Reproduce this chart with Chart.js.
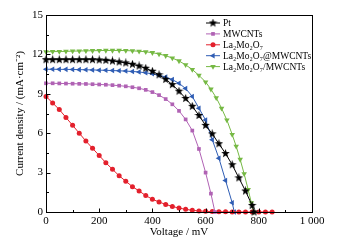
<!DOCTYPE html>
<html lang="en">
<head>
  <meta charset="UTF-8">
  <title>Curvas J-V</title>
  <script src="https://cdn.jsdelivr.net/npm/chart.js"></script>
  <style>
    html, body { margin: 0; padding: 0; background: #fff; }
    #wrap { width: 337px; height: 251px; }
  </style>
</head>
<body>
  <div id="wrap"><canvas id="grafico" width="337" height="251"></canvas></div>

  <script>
    // Series names (legend order)
    const seriesNames = ['Pt', 'MWCNTs', 'La₂Mo₂O₇', 'La₂Mo₂O₇@MWCNTs', 'La₂Mo₂O₇/MWCNTs'];
    const seriesColors = ['#000000', '#b062b4', '#e3202c', '#2f5db4', '#76b944'];

    // Voltage (mV) / current density (mA·cm-2)
    const ptV = [0, 25, 50, 75, 100, 125, 150, 175, 200, 225, 250, 275, 300, 325, 350, 375, 400, 425, 450, 475, 500, 525, 550, 575, 600, 625, 650, 675, 700, 725, 750, 775, 782];
    const ptJ = [11.6, 11.6, 11.6, 11.6, 11.6, 11.6, 11.6, 11.6, 11.58, 11.55, 11.5, 11.43, 11.35, 11.25, 11.12, 10.95, 10.72, 10.45, 10.1, 9.7, 9.2, 8.65, 8.05, 7.35, 6.6, 5.95, 5.2, 4.45, 3.6, 2.6, 1.6, 0.5, 0];

    const mwV = [0, 25, 50, 75, 100, 125, 150, 175, 200, 225, 250, 275, 300, 325, 350, 375, 400, 425, 450, 475, 500, 525, 550, 575, 600, 620, 635];
    const mwJ = [9.8, 9.8, 9.79, 9.78, 9.77, 9.76, 9.75, 9.73, 9.71, 9.69, 9.66, 9.62, 9.57, 9.5, 9.42, 9.3, 9.13, 8.9, 8.6, 8.2, 7.7, 7.05, 6.2, 4.8, 3.0, 1.4, 0];

    const lmoV = [0, 25, 50, 75, 100, 125, 150, 175, 200, 225, 250, 275, 300, 325, 350, 375, 400, 425, 450, 475, 500, 525, 550, 575, 600, 625, 650, 675, 700, 725, 750, 775, 800, 825, 850];
    const lmoJ = [8.8, 8.3, 7.8, 7.2, 6.6, 6.0, 5.4, 4.85, 4.3, 3.75, 3.25, 2.76, 2.34, 1.93, 1.6, 1.25, 0.97, 0.76, 0.58, 0.42, 0.3, 0.2, 0.13, 0.08, 0.05, 0.03, 0.02, 0.01, 0, 0, 0, 0, 0, 0, 0];

    const atV = [0, 25, 50, 75, 100, 125, 150, 175, 200, 225, 250, 275, 300, 325, 350, 375, 400, 425, 450, 475, 500, 525, 550, 575, 600, 625, 650, 675, 700, 708];
    const atJ = [10.87, 10.87, 10.86, 10.86, 10.85, 10.84, 10.83, 10.82, 10.8, 10.79, 10.77, 10.75, 10.73, 10.7, 10.66, 10.6, 10.52, 10.42, 10.28, 10.08, 9.8, 9.4, 8.8, 7.9, 7.0, 5.5, 4.1, 2.4, 0.7, 0];

    const slV = [0, 25, 50, 75, 100, 125, 150, 175, 200, 225, 250, 275, 300, 325, 350, 375, 400, 425, 450, 475, 500, 525, 550, 575, 600, 620, 640, 660, 680, 700, 715, 730, 745, 760, 772, 780];
    const slJ = [12.2, 12.21, 12.22, 12.23, 12.25, 12.26, 12.27, 12.28, 12.29, 12.3, 12.3, 12.3, 12.29, 12.27, 12.24, 12.2, 12.13, 12.03, 11.9, 11.72, 11.5, 11.2, 10.85, 10.4, 9.9, 9.35, 8.7, 7.9, 7.0, 5.9, 5.0, 4.0, 2.9, 1.7, 0.7, 0];

    // Axes
    const xTicks = [0, 200, 400, 600, 800, 1000];
    const yTicks = [0, 3, 6, 9, 12, 15];

    const fuente = '"Liberation Serif", "Times New Roman", serif';

    function pares(vs, js) {
      return vs.map((v, i) => ({ x: v, y: js[i] }));
    }

    // Filled five-point star for Pt
    function crearEstrella(size, color) {
      const c = document.createElement('canvas');
      c.width = size; c.height = size;
      const g = c.getContext('2d');
      const cx = size / 2, cy = size / 2, R = size / 2, r = R * 0.42;
      g.beginPath();
      for (let i = 0; i < 10; i++) {
        const rad = i % 2 === 0 ? R : r;
        const ang = -Math.PI / 2 + i * Math.PI / 5;
        g.lineTo(cx + rad * Math.cos(ang), cy + rad * Math.sin(ang));
      }
      g.closePath();
      g.fillStyle = color;
      g.fill();
      return c;
    }
    const estrella = crearEstrella(9, '#000');

    const estilos = [
      { pointStyle: estrella, pointRadius: 4.5, pointRotation: 0 },
      { pointStyle: 'rect', pointRadius: 2.6, pointRotation: 0 },
      { pointStyle: 'circle', pointRadius: 2.5, pointRotation: 0 },
      { pointStyle: 'triangle', pointRadius: 3.2, pointRotation: -90 },
      { pointStyle: 'triangle', pointRadius: 3.2, pointRotation: 180 }
    ];

    const datos = [pares(ptV, ptJ), pares(mwV, mwJ), pares(lmoV, lmoJ), pares(atV, atJ), pares(slV, slJ)];

    const datasets = seriesNames.map((name, i) => ({
      label: name,
      data: datos[i],
      borderColor: seriesColors[i],
      backgroundColor: seriesColors[i],
      pointBackgroundColor: seriesColors[i],
      pointBorderColor: seriesColors[i],
      pointBorderWidth: 0,
      borderWidth: 1,
      tension: 0,
      clip: false,
      pointStyle: estilos[i].pointStyle,
      pointRadius: estilos[i].pointRadius,
      pointRotation: estilos[i].pointRotation
    }));

    // Frame, inner ticks and legend inside the plot
    const marcoPlugin = {
      id: 'marco',
      afterDraw(chart) {
        const { ctx, chartArea: a, scales: { x, y } } = chart;
        ctx.save();
        ctx.strokeStyle = '#000';
        ctx.lineWidth = 1;
        const L = Math.round(a.left) + 0.5, T = Math.round(a.top) + 0.5;
        const R = Math.round(a.right) + 0.5, B = Math.round(a.bottom) + 0.5;
        ctx.strokeRect(L, T, R - L, B - T);

        ctx.beginPath();
        for (let v = 0; v <= 1000; v += 100) {
          const px = Math.round(x.getPixelForValue(v)) + 0.5;
          const len = v % 200 === 0 ? 4 : 2.5;
          ctx.moveTo(px, B);
          ctx.lineTo(px, B - len);
        }
        for (let k = 0; k <= 10; k++) {
          const v = k * 1.5;
          const py = Math.round(y.getPixelForValue(v)) + 0.5;
          const len = k % 2 === 0 ? 4 : 2.5;
          ctx.moveTo(L, py);
          ctx.lineTo(L + len, py);
        }
        ctx.stroke();

        // legend
        const x0 = 206, x1 = 220, tx = 223;
        ctx.font = '9.5px ' + fuente;
        ctx.textBaseline = 'middle';
        ctx.textAlign = 'left';
        chart.data.datasets.forEach((ds, i) => {
          const yy = 23 + i * 10.9;
          ctx.strokeStyle = ds.borderColor;
          ctx.fillStyle = ds.borderColor;
          ctx.lineWidth = 1;
          ctx.beginPath();
          ctx.moveTo(x0, yy);
          ctx.lineTo(x1, yy);
          ctx.stroke();
          Chart.helpers.drawPoint(ctx, {
            pointStyle: ds.pointStyle,
            radius: ds.pointRadius,
            rotation: ds.pointRotation,
            borderWidth: 0
          }, (x0 + x1) / 2, yy);
          ctx.fillStyle = '#000';
          ctx.fillText(ds.label, tx, yy + 0.5);
        });
        ctx.restore();
      }
    };

    const lienzo = document.getElementById('grafico');
    const grafico = new Chart(lienzo, {
      type: 'line',
      data: { datasets: datasets },
      options: {
        responsive: false,
        animation: false,
        events: [],
        layout: { padding: { top: 15, right: 25, left: 14, bottom: 12 } },
        plugins: {
          legend: { display: false },
          tooltip: { enabled: false }
        },
        scales: {
          x: {
            type: 'linear',
            min: 0,
            max: 1000,
            afterBuildTicks: s => { s.ticks = xTicks.map(v => ({ value: v })); },
            afterFit: s => { s.height = 27; },
            grid: { display: false, drawTicks: false },
            border: { display: false },
            ticks: {
              color: '#000',
              padding: 3,
              maxRotation: 0,
              font: { family: fuente, size: 11 },
              callback: v => v === 1000 ? '1 000' : String(v)
            },
            title: {
              display: true,
              text: 'Voltage / mV',
              color: '#000',
              padding: { top: 1, bottom: 0 },
              font: { family: fuente, size: 11 }
            }
          },
          y: {
            type: 'linear',
            min: 0,
            max: 15,
            afterBuildTicks: s => { s.ticks = yTicks.map(v => ({ value: v })); },
            afterFit: s => { s.width = 32; },
            grid: { display: false, drawTicks: false },
            border: { display: false },
            ticks: {
              color: '#000',
              padding: 3,
              font: { family: fuente, size: 11 }
            },
            title: {
              display: true,
              text: 'Current density / (mA·cm⁻²)',
              color: '#000',
              padding: { top: 0, bottom: 2 },
              font: { family: fuente, size: 11 }
            }
          }
        }
      },
      plugins: [marcoPlugin]
    });
  </script>
</body>
</html>
